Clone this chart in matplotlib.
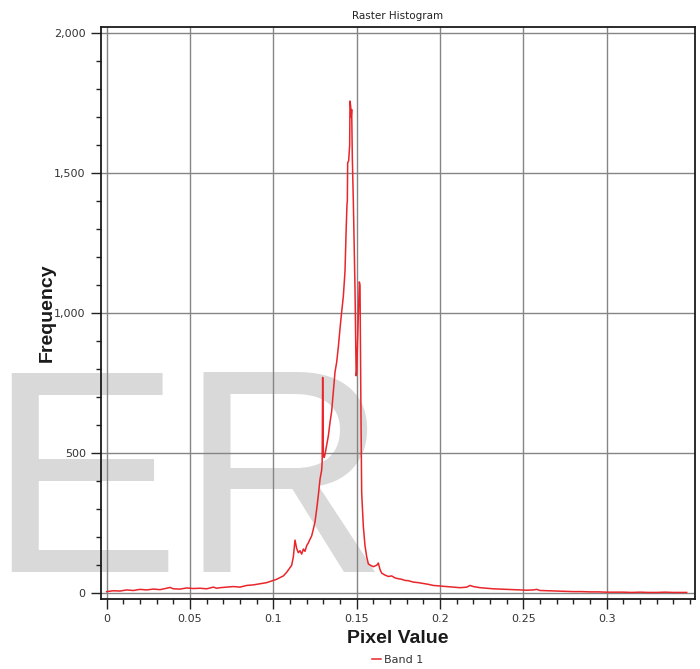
import matplotlib
matplotlib.use("Agg")
import matplotlib.pyplot as plt
from matplotlib.ticker import MultipleLocator

# ---- data ----
pixel_value = [
    0.000, 0.004, 0.008, 0.012, 0.016, 0.020, 0.024, 0.028, 0.032, 0.036,
    0.038, 0.040, 0.044, 0.048, 0.052, 0.056, 0.060, 0.064, 0.066, 0.068,
    0.072, 0.076, 0.080, 0.084, 0.088, 0.092, 0.096, 0.100, 0.102, 0.104,
    0.106, 0.108, 0.110, 0.111, 0.112, 0.113, 0.1135, 0.114, 0.115, 0.116,
    0.117, 0.118, 0.119, 0.120, 0.121, 0.122, 0.123, 0.124, 0.125, 0.126,
    0.127, 0.128, 0.129, 0.1293, 0.1296, 0.1300, 0.1305, 0.131, 0.132, 0.133,
    0.134, 0.135, 0.136, 0.137, 0.138, 0.139, 0.140, 0.141, 0.142, 0.143,
    0.1437, 0.1442, 0.1444, 0.1446, 0.1452, 0.1458, 0.1460, 0.1464, 0.1467, 0.1470,
    0.1474, 0.1480, 0.1490, 0.1497, 0.1500, 0.1508, 0.1516, 0.1520, 0.1525, 0.153,
    0.154, 0.155, 0.156, 0.157, 0.158, 0.160, 0.162, 0.163, 0.164, 0.165,
    0.167, 0.169, 0.171, 0.173, 0.175, 0.177, 0.179, 0.181, 0.184, 0.187,
    0.190, 0.193, 0.196, 0.200, 0.204, 0.208, 0.212, 0.216, 0.218, 0.220,
    0.224, 0.228, 0.232, 0.236, 0.240, 0.244, 0.248, 0.252, 0.256, 0.258,
    0.260, 0.265, 0.270, 0.275, 0.280, 0.285, 0.290, 0.295, 0.300, 0.305,
    0.310, 0.315, 0.320, 0.325, 0.330, 0.335, 0.340, 0.345, 0.348,
]
frequency = [
    6, 9, 8, 12, 10, 14, 12, 15, 13, 18,
    21, 16, 15, 19, 17, 18, 16, 22, 18, 20,
    22, 24, 22, 28, 30, 34, 38, 46, 50, 56,
    62, 75, 92, 100, 130, 190, 175, 160, 145, 152,
    140, 158, 150, 170, 180, 193, 205, 229, 255, 300,
    350, 407, 440, 470, 771, 500, 485, 496, 530, 562,
    610, 650, 720, 790, 825, 880, 945, 1005, 1060, 1150,
    1300, 1390, 1400, 1537, 1545, 1600, 1758, 1740, 1700, 1728,
    1555, 1400, 1088, 777, 790, 950, 1112, 1100, 700, 360,
    239, 170, 131, 105, 101, 95, 100, 108, 85, 72,
    65, 60, 62, 55, 52, 50, 46, 45, 40, 38,
    35, 32, 28, 26, 24, 22, 20, 22, 28, 24,
    20, 18, 16, 15, 14, 13, 12, 11, 12, 14,
    10, 9, 8, 7, 6, 6, 5, 5, 4, 4,
    4, 3, 4, 3, 3, 4, 3, 3, 3,
]

x_ticks = [0, 0.05, 0.1, 0.15, 0.2, 0.25, 0.3]
x_tick_labels = ["0", "0.05", "0.1", "0.15", "0.2", "0.25", "0.3"]
y_ticks = [0, 500, 1000, 1500, 2000]
y_tick_labels = ["0", "500", "1,000", "1,500", "2,000"]
series_name = "Band 1"

W, H = 700, 669
fig = plt.figure(figsize=(W / 100, H / 100), dpi=100)
fig.patch.set_facecolor("white")

# watermark behind axes
fig.text(-13 / W, 1 - 572 / H, "ER", family="Liberation Sans", fontsize=208,
         color="#d9d9d9", ha="left", va="baseline", zorder=-5)

ax = fig.add_axes([101 / W, 1 - 599 / H, (695 - 101) / W, (599 - 27) / H])
ax.patch.set_alpha(0)

ax.plot(pixel_value, frequency, color="#e8262b", lw=1.1, zorder=3, label=series_name)

ax.set_xlim(-0.0034, 0.353)
ax.set_ylim(-20.4, 2022.5)

ax.set_xticks(x_ticks)
ax.set_xticklabels(x_tick_labels)
ax.set_yticks(y_ticks)
ax.set_yticklabels(y_tick_labels)
ax.xaxis.set_minor_locator(MultipleLocator(0.01))
ax.yaxis.set_minor_locator(MultipleLocator(100))

ax.tick_params(which="major", length=7, width=1, color="#222222", labelsize=8,
               labelcolor="#333333", pad=4)
ax.tick_params(which="minor", length=3.5, width=1, color="#222222")

ax.grid(True, which="major", color="#858585", lw=1.0, zorder=1)
ax.set_axisbelow(False)
for s in ax.spines.values():
    s.set_color("#1a1a1a")
    s.set_linewidth(1.3)
    s.set_zorder(4)

ax.set_title("Raster Histogram", fontsize=7.5, color="#222222", pad=6)
ax.set_xlabel("Pixel Value", family="Liberation Sans", fontweight="bold",
              fontsize=14, color="#1a1a1a", labelpad=4)
ax.set_ylabel("Frequency", family="Liberation Sans", fontweight="bold",
              fontsize=14, color="#1a1a1a", labelpad=-1)

leg = fig.legend(loc="center", bbox_to_anchor=(398 / W, 1 - 660 / H), frameon=False,
                 fontsize=8, handlelength=0.8, handletextpad=0.3)
for t in leg.get_texts():
    t.set_color("#333333")

fig.savefig("out.png", dpi=100)
